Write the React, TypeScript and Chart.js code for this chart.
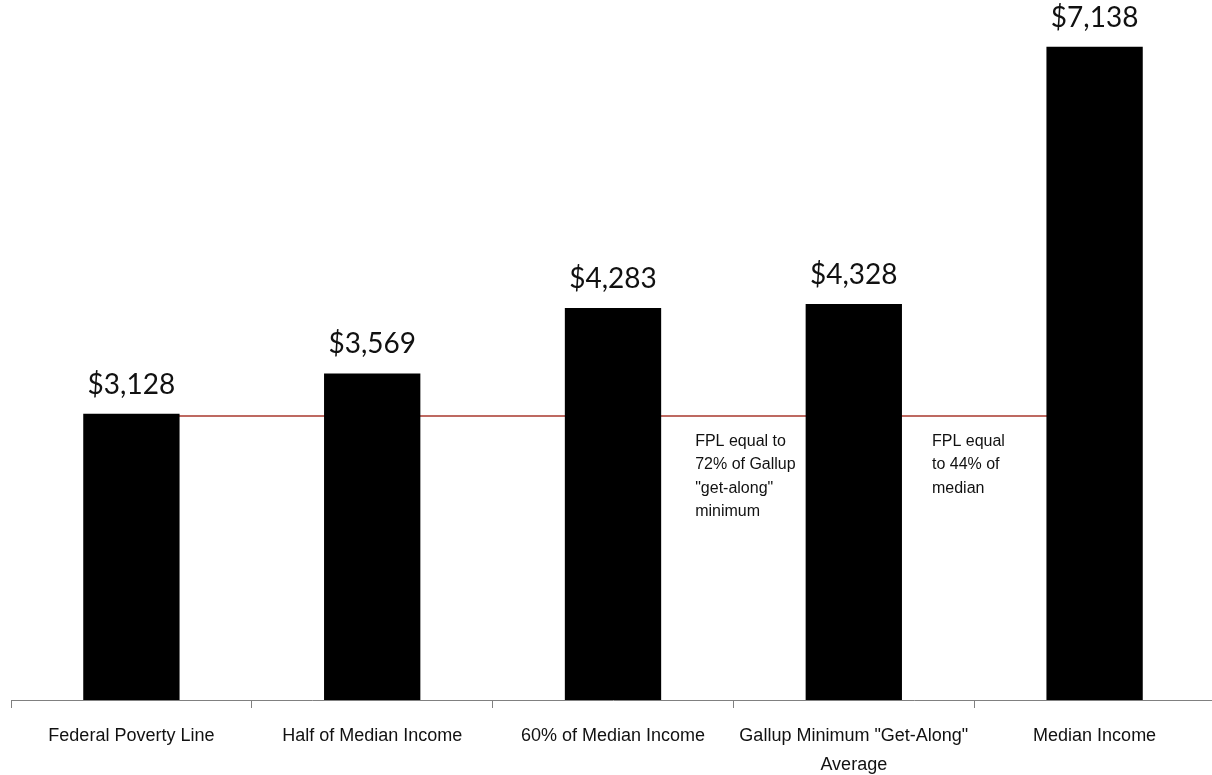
import React, { useEffect, useRef } from "react";
import { Chart, registerables } from "chart.js";

Chart.register(...registerables);

const categories: (string | string[])[] = [
  "Federal Poverty Line",
  "Half of Median Income",
  "60% of Median Income",
  ['Gallup Minimum "Get-Along"', "Average"],
  "Median Income",
];
const monthlyIncome = [3128, 3569, 4283, 4328, 7138];
const valueLabels = ["$3,128", "$3,569", "$4,283", "$4,328", "$7,138"];
const fplLine = [3105, 3105, 3105, 3105, 3105];
const yMax = 7650;
const noteGallup = ["FPL equal to", "72% of Gallup", '"get-along"', "minimum"];
const noteMedian = ["FPL equal", "to 44% of", "median"];

const labelPlugin = {
  id: "valueLabels",
  afterDatasetsDraw(chart: any) {
    const ctx = chart.ctx;
    const meta = chart.getDatasetMeta(0);
    ctx.save();
    ctx.fillStyle = "#111";
    ctx.font = "28px Lato";
    ctx.textAlign = "center";
    ctx.textBaseline = "alphabetic";
    meta.data.forEach((bar: any, i: number) => {
      ctx.fillText(valueLabels[i], bar.x, bar.y - 20);
    });
    // notes
    ctx.font = "16px 'Liberation Sans', Arial, sans-serif";
    ctx.textAlign = "left";
    const b3 = meta.data[2];
    const b4 = meta.data[3];
    const x1 = b3.x + b3.width / 2 + 34;
    const x2 = b4.x + b4.width / 2 + 30;
    const lh = 23.3;
    noteGallup.forEach((t, i) => ctx.fillText(t, x1, 446 + i * lh));
    noteMedian.forEach((t, i) => ctx.fillText(t, x2, 446 + i * lh));
    ctx.restore();
  },
};

export default function App() {
  const ref = useRef<HTMLCanvasElement>(null);
  useEffect(() => {
    if (!ref.current) return;
    const chart = new Chart(ref.current, {
      type: "bar",
      data: {
        labels: categories,
        datasets: [
          {
            type: "bar",
            data: monthlyIncome,
            backgroundColor: "#000000",
            barPercentage: 0.4,
            categoryPercentage: 1,
            order: 1,
          },
          {
            type: "line",
            data: fplLine,
            borderColor: "#a8372c",
            borderWidth: 1.5,
            pointRadius: 0,
            order: 2,
          } as any,
        ],
      },
      options: {
        animation: false,
        responsive: false,
        maintainAspectRatio: false,
        layout: { padding: { left: 11, right: 1, top: 0, bottom: 0 } },
        plugins: { legend: { display: false }, tooltip: { enabled: false } },
        scales: {
          y: { display: false, min: 0, max: yMax },
          x: {
            afterFit: (scale: any) => {
              scale.height = 75;
            },
            border: { display: true, color: "#808080", width: 1 },
            grid: {
              offset: true,
              drawOnChartArea: false,
              drawTicks: true,
              tickLength: 8,
              color: "#808080",
            },
            ticks: {
              color: "#111",
              padding: 14,
              maxRotation: 0,
              autoSkip: false,
              font: { family: "'Liberation Sans', Arial, sans-serif", size: 18, lineHeight: 1.6 },
            },
          },
        },
      },
      plugins: [labelPlugin],
    });
    return () => chart.destroy();
  }, []);
  return (
    <div style={{ position: "fixed", left: 0, top: 0, width: 1212, height: 775, overflow: "hidden", background: "#fff" }}>
      <canvas ref={ref} width={1216} height={775} style={{ display: "block", width: 1216, height: 775 }} />
    </div>
  );
}
